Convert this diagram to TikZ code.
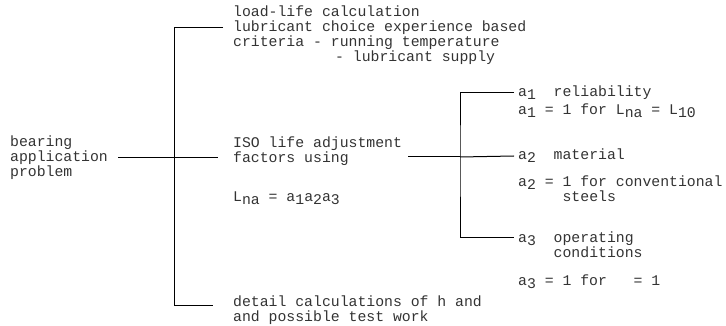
\documentclass[tikz,border=0pt]{standalone}
\usepackage{fontspec}
\setmonofont{Liberation Mono}
\usetikzlibrary{positioning}
\newcommand\sbs[1]{\raisebox{-0.4ex}{#1}}
\tikzset{
  txt/.style={inner sep=0pt, anchor=west, align=left, text=black!80,
    font=\ttfamily\fontsize{14.8}{15}\selectfont},
  conn/.style={line width=1pt, draw=black},
}

\begin{document}
\begin{tikzpicture}[x=1pt,y=-1pt]
  \useasboundingbox (0,0) rectangle (726,326);

  %% -- problem ------------------------------------------------
  \node[txt] (prob) at (10,158) {bearing\\application\\problem};

  %% -- middle column ------------------------------------------
  \node[txt] (load) at (233,35.5)
    {load-life calculation\\lubricant choice experience based\\
     criteria - running temperature\\\hspace*{102pt}- lubricant supply};
  \node[txt] (iso) at (233,151.5) {ISO life adjustment\\factors using};
  \node[txt] (lna) at (233,198) {L\sbs{na} = a\sbs{1}a\sbs{2}a\sbs{3}};
  \node[txt] (det) at (233,310.5)
    {detail calculations of h and\\and possible test work};

  \coordinate (trunk) at (174,0);
  \draw[conn] ([xshift=-10pt,yshift=7.5pt]load.west)
    -| ([yshift=5.5pt]det.west -| trunk)
    -- ([xshift=-20pt,yshift=5.5pt]det.west);
  \draw[conn] ([xshift=10pt]prob.east) -- ([xshift=-15pt]iso.west |- prob.east);

  %% -- adjustment factors -------------------------------------
  \node[txt] (rel)  at (518,93)  {a\sbs{1}\hphantom{xx}reliability};
  \node[txt] (rel1) at (518,111) {a\sbs{1} = 1 for L\sbs{na} = L\sbs{10}};
  \node[txt] (mat)  at (518,156) {a\sbs{2}\hphantom{xx}material};
  \node[txt] (mat1) at (518,189)
    {a\sbs{2} = 1 for conventional\\\hphantom{xxxxx}steels};
  \node[txt] (opc)  at (518,244.5)
    {a\sbs{3}\hphantom{xx}operating\\\hphantom{xxxx}conditions};
  \node[txt] (opc1) at (518,282) {a\sbs{3} = 1 for\hphantom{xxx}= 1};

  \coordinate (rj) at (460,157);
  \draw[conn] ([xshift=6pt]iso.east |- rj) -- (rj);
  \draw[conn] ([xshift=-4pt]rel.west) -| (rj)
    |- ([xshift=-4pt,yshift=7.5pt]opc.west);
  \draw[conn] (rj) -- ([xshift=-4pt]mat.west);
\end{tikzpicture}
\end{document}
